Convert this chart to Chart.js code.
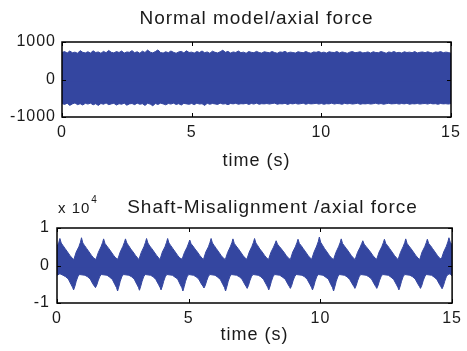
<!DOCTYPE html>
<html>
<head>
<meta charset="utf-8">
<script src="https://cdn.jsdelivr.net/npm/chart.js@4/dist/chart.umd.min.js"></script>
<style>
html,body{margin:0;padding:0;background:#fff;}
#wrap{position:relative;width:467px;height:351px;background:#fff;}
canvas{position:absolute;left:0;}
#c1{top:0;}
#c2{top:175px;}
</style>
</head>
<body>
<div id="wrap">
<canvas id="c1" width="467" height="175"></canvas>
<canvas id="c2" width="467" height="176"></canvas>
</div>
<script>
// ---------- text ----------
const topTitle = 'Normal model/axial force';
const bottomTitle = 'Shaft-Misalignment /axial force';
const xTitle = 'time (s)';
const bottomExponentBase = 'x 10';
const bottomExponentPower = '4';

// ---------- tick values ----------
const timeTicks = [0, 5, 10, 15];
const topYTicks = [-1000, 0, 1000];
const bottomYTicks = [-1, 0, 1];   // in units of 10^4

// ---------- top plot: envelope of the axial force (N), sampled every 0.1 s ----------
const topTimes = Array.from({length: 151}, (_, i) => i / 10);
const topUpper = [
  720,745,705,760,715,730,700,770,725,710,
  740,705,765,720,735,700,750,715,775,725,
  710,745,720,760,705,735,725,770,715,740,
  700,755,720,785,730,710,745,790,720,705,
  740,715,760,725,700,735,750,710,765,720,
  730,705,745,720,760,715,735,700,755,725,
  710,740,780,725,750,705,735,720,760,715,
  730,700,745,725,715,750,720,705,740,725,
  715,745,720,700,735,725,750,710,730,720,
  705,740,725,715,745,720,700,735,725,745,
  715,730,705,740,725,720,745,710,735,720,
  700,730,745,715,725,740,710,720,735,705,
  740,720,715,745,725,700,735,720,745,715,
  725,705,740,720,730,715,745,710,725,735,
  715,740,720,705,735,725,745,715,730,720,
  700
];
const topLower = [
  -640,-665,-630,-690,-650,-625,-670,-645,-680,-635,
  -655,-630,-675,-645,-690,-640,-660,-625,-670,-650,
  -635,-680,-645,-660,-630,-685,-650,-640,-670,-630,
  -660,-645,-690,-635,-655,-700,-640,-665,-630,-650,
  -675,-640,-655,-630,-665,-645,-680,-635,-650,-660,
  -640,-670,-630,-655,-645,-690,-635,-660,-640,-650,
  -665,-630,-655,-645,-670,-640,-650,-635,-660,-645,
  -650,-635,-665,-640,-655,-630,-660,-645,-650,-640,
  -655,-640,-630,-660,-645,-650,-635,-665,-640,-650,
  -635,-655,-645,-630,-660,-640,-650,-645,-635,-655,
  -640,-660,-645,-650,-630,-655,-640,-645,-660,-635,
  -650,-640,-655,-645,-635,-660,-645,-650,-640,-655,
  -645,-630,-655,-640,-660,-645,-635,-650,-645,-640,
  -655,-640,-650,-635,-660,-645,-650,-640,-655,-645,
  -640,-655,-635,-650,-645,-660,-640,-650,-645,-655,
  -640
];

// ---------- bottom plot: envelope [time s, force x10^4 N] ----------
const bottomUpper = [
  [0,0.5],[0.07,0.62],[0.11,0.72],[0.16,0.6],[0.23,0.53],[0.31,0.45],[0.4,0.36],[0.49,0.27],[0.57,0.2],
  [0.64,0.16],[0.73,0.36],[0.83,0.5],[0.89,0.62],[0.93,0.74],[0.98,0.6],[1.05,0.53],[1.13,0.45],[1.22,0.36],[1.31,0.27],[1.39,0.2],
  [1.48,0.16],[1.57,0.35],[1.67,0.5],[1.73,0.61],[1.77,0.71],[1.82,0.59],[1.89,0.52],[1.97,0.45],[2.06,0.36],[2.15,0.27],[2.23,0.2],
  [2.31,0.17],[2.4,0.36],[2.5,0.51],[2.56,0.62],[2.6,0.71],[2.65,0.6],[2.72,0.53],[2.8,0.44],[2.89,0.36],[2.98,0.27],[3.06,0.2],
  [3.11,0.16],[3.2,0.35],[3.3,0.5],[3.36,0.62],[3.4,0.72],[3.45,0.6],[3.52,0.52],[3.6,0.45],[3.69,0.36],[3.78,0.27],[3.86,0.2],
  [3.91,0.16],[4.0,0.36],[4.1,0.5],[4.16,0.62],[4.2,0.72],[4.25,0.6],[4.32,0.53],[4.4,0.45],[4.49,0.36],[4.58,0.27],[4.66,0.2],
  [4.75,0.17],[4.84,0.35],[4.94,0.49],[5.0,0.6],[5.04,0.68],[5.09,0.58],[5.16,0.52],[5.24,0.44],[5.33,0.36],[5.42,0.27],[5.5,0.2],
  [5.56,0.16],[5.65,0.36],[5.75,0.5],[5.81,0.62],[5.85,0.72],[5.9,0.6],[5.97,0.53],[6.05,0.45],[6.14,0.36],[6.23,0.27],[6.31,0.2],
  [6.39,0.16],[6.48,0.35],[6.58,0.5],[6.64,0.61],[6.68,0.71],[6.73,0.59],[6.8,0.52],[6.88,0.45],[6.97,0.36],[7.06,0.27],[7.14,0.2],
  [7.21,0.17],[7.3,0.36],[7.4,0.51],[7.46,0.62],[7.5,0.72],[7.55,0.6],[7.62,0.53],[7.7,0.44],[7.79,0.36],[7.88,0.27],[7.96,0.2],
  [8.03,0.16],[8.12,0.35],[8.22,0.49],[8.28,0.59],[8.32,0.66],[8.37,0.57],[8.44,0.51],[8.52,0.44],[8.61,0.36],[8.7,0.27],[8.78,0.2],
  [8.86,0.16],[8.95,0.36],[9.05,0.5],[9.11,0.61],[9.15,0.7],[9.2,0.59],[9.27,0.53],[9.35,0.45],[9.44,0.36],[9.53,0.27],[9.61,0.2],
  [9.67,0.17],[9.76,0.36],[9.86,0.52],[9.92,0.64],[9.96,0.76],[10.01,0.62],[10.08,0.54],[10.16,0.45],[10.25,0.36],[10.34,0.27],[10.42,0.2],
  [10.5,0.16],[10.59,0.35],[10.69,0.5],[10.75,0.61],[10.79,0.71],[10.84,0.59],[10.91,0.52],[10.99,0.45],[11.08,0.36],[11.17,0.27],[11.25,0.2],
  [11.32,0.16],[11.41,0.35],[11.51,0.49],[11.57,0.59],[11.61,0.66],[11.66,0.57],[11.73,0.51],[11.81,0.44],[11.9,0.36],[11.99,0.27],[12.07,0.2],
  [12.14,0.17],[12.23,0.36],[12.33,0.5],[12.39,0.61],[12.43,0.7],[12.48,0.59],[12.55,0.53],[12.63,0.45],[12.72,0.36],[12.81,0.27],[12.89,0.2],
  [12.95,0.16],[13.04,0.35],[13.14,0.5],[13.2,0.61],[13.24,0.71],[13.29,0.59],[13.36,0.52],[13.44,0.45],[13.53,0.36],[13.62,0.27],[13.7,0.2],
  [13.77,0.16],[13.86,0.36],[13.96,0.5],[14.02,0.61],[14.06,0.7],[14.11,0.59],[14.18,0.53],[14.26,0.45],[14.35,0.36],[14.44,0.27],[14.52,0.2],
  [14.59,0.17],[14.68,0.36],[14.78,0.51],[14.84,0.63],[14.88,0.74],[14.93,0.62],[15.0,0.55]
];
const bottomLower = [
  [0,-0.26],[0.11,-0.22],[0.23,-0.26],[0.33,-0.3],[0.43,-0.36],[0.53,-0.5],[0.59,-0.58],[0.63,-0.65],[0.68,-0.55],[0.73,-0.42],[0.79,-0.3],[0.85,-0.24],
  [1.06,-0.26],[1.16,-0.3],[1.26,-0.36],[1.36,-0.49],[1.42,-0.55],[1.46,-0.59],[1.51,-0.52],[1.56,-0.41],[1.62,-0.3],[1.68,-0.24],
  [1.9,-0.26],[2.0,-0.31],[2.1,-0.37],[2.2,-0.51],[2.26,-0.59],[2.3,-0.68],[2.35,-0.56],[2.4,-0.42],[2.46,-0.3],[2.52,-0.24],
  [2.73,-0.26],[2.83,-0.3],[2.93,-0.36],[3.03,-0.5],[3.09,-0.58],[3.13,-0.66],[3.18,-0.55],[3.23,-0.42],[3.29,-0.3],[3.35,-0.24],
  [3.55,-0.26],[3.65,-0.3],[3.75,-0.37],[3.85,-0.5],[3.91,-0.58],[3.95,-0.65],[4.0,-0.55],[4.05,-0.42],[4.11,-0.3],[4.17,-0.24],
  [4.38,-0.26],[4.48,-0.31],[4.58,-0.36],[4.68,-0.51],[4.74,-0.59],[4.78,-0.68],[4.83,-0.56],[4.88,-0.42],[4.94,-0.3],[5.0,-0.24],
  [5.18,-0.26],[5.28,-0.3],[5.38,-0.36],[5.48,-0.49],[5.54,-0.55],[5.58,-0.6],[5.63,-0.53],[5.68,-0.41],[5.74,-0.3],[5.8,-0.24],
  [6.0,-0.26],[6.1,-0.31],[6.2,-0.37],[6.3,-0.51],[6.36,-0.59],[6.4,-0.68],[6.45,-0.56],[6.5,-0.42],[6.56,-0.3],[6.62,-0.24],
  [6.82,-0.26],[6.92,-0.3],[7.02,-0.36],[7.12,-0.49],[7.18,-0.56],[7.22,-0.61],[7.27,-0.53],[7.32,-0.41],[7.38,-0.3],[7.44,-0.24],
  [7.64,-0.26],[7.74,-0.3],[7.84,-0.37],[7.94,-0.5],[8.0,-0.58],[8.04,-0.65],[8.09,-0.55],[8.14,-0.42],[8.2,-0.3],[8.26,-0.24],
  [8.46,-0.26],[8.56,-0.31],[8.66,-0.36],[8.76,-0.49],[8.82,-0.56],[8.86,-0.61],[8.91,-0.53],[8.96,-0.41],[9.02,-0.3],[9.08,-0.24],
  [9.3,-0.26],[9.4,-0.3],[9.5,-0.37],[9.6,-0.5],[9.66,-0.58],[9.7,-0.65],[9.75,-0.55],[9.8,-0.42],[9.86,-0.3],[9.92,-0.24],
  [10.1,-0.26],[10.2,-0.31],[10.3,-0.36],[10.4,-0.51],[10.46,-0.59],[10.5,-0.68],[10.55,-0.56],[10.6,-0.42],[10.66,-0.3],[10.72,-0.24],
  [10.91,-0.26],[11.01,-0.3],[11.11,-0.37],[11.21,-0.49],[11.27,-0.56],[11.31,-0.61],[11.36,-0.53],[11.41,-0.41],[11.47,-0.3],[11.53,-0.24],
  [11.74,-0.26],[11.84,-0.3],[11.94,-0.36],[12.04,-0.49],[12.1,-0.56],[12.14,-0.61],[12.19,-0.53],[12.24,-0.41],[12.3,-0.3],[12.36,-0.24],
  [12.58,-0.26],[12.68,-0.31],[12.78,-0.37],[12.88,-0.5],[12.94,-0.58],[12.98,-0.65],[13.03,-0.55],[13.08,-0.42],[13.14,-0.3],[13.2,-0.24],
  [13.4,-0.26],[13.5,-0.3],[13.6,-0.36],[13.7,-0.49],[13.76,-0.56],[13.8,-0.61],[13.85,-0.53],[13.9,-0.41],[13.96,-0.3],[14.02,-0.24],
  [14.22,-0.26],[14.32,-0.31],[14.42,-0.37],[14.52,-0.5],[14.58,-0.57],[14.62,-0.62],[14.67,-0.54],[14.72,-0.42],[14.78,-0.3],[14.84,-0.24],
  [14.92,-0.22],[15.0,-0.28]
];

// ---------- styling ----------
const FONT = "'Liberation Sans', Arial, Helvetica, sans-serif";
const BLUE = '#3446a0';
const INK = '#1a1a1a';

const frame = {
  id: 'frame',
  beforeDraw(chart) { chart.ctx.letterSpacing = '1px'; },
  afterDatasetsDraw(chart) {
    const {ctx, chartArea: a, scales: {x, y}} = chart;
    ctx.save();
    ctx.strokeStyle = '#000';
    ctx.lineWidth = 1.5;
    ctx.strokeRect(a.left, a.top, a.right - a.left, a.bottom - a.top);
    ctx.lineWidth = 1;
    ctx.beginPath();
    x.ticks.forEach(t => {
      const px = Math.round(x.getPixelForValue(t.value)) + 0.5;
      ctx.moveTo(px, a.bottom); ctx.lineTo(px, a.bottom - 4);
      ctx.moveTo(px, a.top); ctx.lineTo(px, a.top + 4);
    });
    y.ticks.forEach(t => {
      const py = Math.round(y.getPixelForValue(t.value)) + 0.5;
      ctx.moveTo(a.left, py); ctx.lineTo(a.left + 4, py);
      ctx.moveTo(a.right, py); ctx.lineTo(a.right - 4, py);
    });
    ctx.stroke();
    ctx.restore();
  }
};

// fill each envelope slightly past zero so the two halves overlap without a seam
function series(points, fillTo) {
  return {
    data: points,
    fill: {value: fillTo},
    borderColor: BLUE,
    backgroundColor: BLUE,
    borderWidth: 1,
    pointRadius: 0,
    tension: 0
  };
}

function makeOptions(cfg) {
  return {
    responsive: false,
    animation: false,
    devicePixelRatio: 1,
    layout: {padding: cfg.padding},
    plugins: {
      legend: {display: false},
      tooltip: {enabled: false},
      title: cfg.title
    },
    scales: {
      x: {
        type: 'linear', min: 0, max: 15,
        afterBuildTicks: s => { s.ticks = timeTicks.map(v => ({value: v})); },
        afterFit: s => { s.height = cfg.xHeight; },
        grid: {display: false, drawTicks: false},
        border: {display: false},
        ticks: {padding: cfg.xTickPad, color: INK, font: {family: FONT, size: 16}, maxRotation: 0, autoSkip: false, callback: v => String(v)},
        title: {display: true, text: xTitle, color: INK, font: {family: FONT, size: 18, lineHeight: 1.2}, padding: {top: 0, bottom: cfg.xTitlePad}}
      },
      y: {
        type: 'linear', min: cfg.yTicks[0], max: cfg.yTicks[cfg.yTicks.length - 1],
        afterBuildTicks: s => { s.ticks = cfg.yTicks.map(v => ({value: v})); },
        afterFit: s => { s.width = cfg.yWidth; },
        grid: {display: false, drawTicks: false},
        border: {display: false},
        ticks: {padding: cfg.yTickPad, color: INK, font: {family: FONT, size: 16}, autoSkip: false, callback: v => String(v)}
      }
    }
  };
}

// ---------- top chart ----------
new Chart(document.getElementById('c1'), {
  type: 'line',
  data: {
    datasets: [
      series(topTimes.map((t, i) => ({x: t, y: topUpper[i]})), -60),
      series(topTimes.map((t, i) => ({x: t, y: topLower[i]})), 60)
    ]
  },
  options: makeOptions({
    padding: {left: 0, right: 16, top: 0, bottom: 0},
    title: {display: true, text: topTitle, fullSize: false, color: INK,
            font: {family: FONT, size: 19, weight: 'normal', lineHeight: 1.2},
            padding: {top: 7, bottom: 12.2}},
    xHeight: 58, yWidth: 62, xTickPad: 6, yTickPad: 6, xTitlePad: 3.4,
    yTicks: topYTicks
  }),
  plugins: [frame]
});

// ---------- bottom chart ----------
const bottomLabels = {
  id: 'bottomLabels',
  afterDraw(chart) {
    const {ctx, chartArea: a} = chart;
    ctx.save();
    ctx.fillStyle = INK;
    ctx.textBaseline = 'alphabetic';
    ctx.letterSpacing = '1px';
    ctx.textAlign = 'center';
    ctx.font = "19px " + FONT;
    ctx.fillText(bottomTitle, (a.left + a.right) / 2 + 18, 37.5);
    ctx.textAlign = 'left';
    ctx.font = "15px " + FONT;
    ctx.fillText(bottomExponentBase, a.left + 1, 37.5);
    const w = ctx.measureText(bottomExponentBase).width;
    ctx.font = "10px " + FONT;
    ctx.fillText(bottomExponentPower, a.left + 1 + w + 1, 28);
    ctx.restore();
  }
};

new Chart(document.getElementById('c2'), {
  type: 'line',
  data: {
    datasets: [
      series(bottomUpper.map(p => ({x: p[0], y: p[1]})), -0.06),
      series(bottomLower.map(p => ({x: p[0], y: p[1]})), 0.06)
    ]
  },
  options: makeOptions({
    padding: {left: 0, right: 12, top: 53, bottom: 0},
    title: {display: false},
    xHeight: 48, yWidth: 57, xTickPad: 6, yTickPad: 7, xTitlePad: 4.7,
    yTicks: bottomYTicks
  }),
  plugins: [frame, bottomLabels]
});
</script>
</body>
</html>
